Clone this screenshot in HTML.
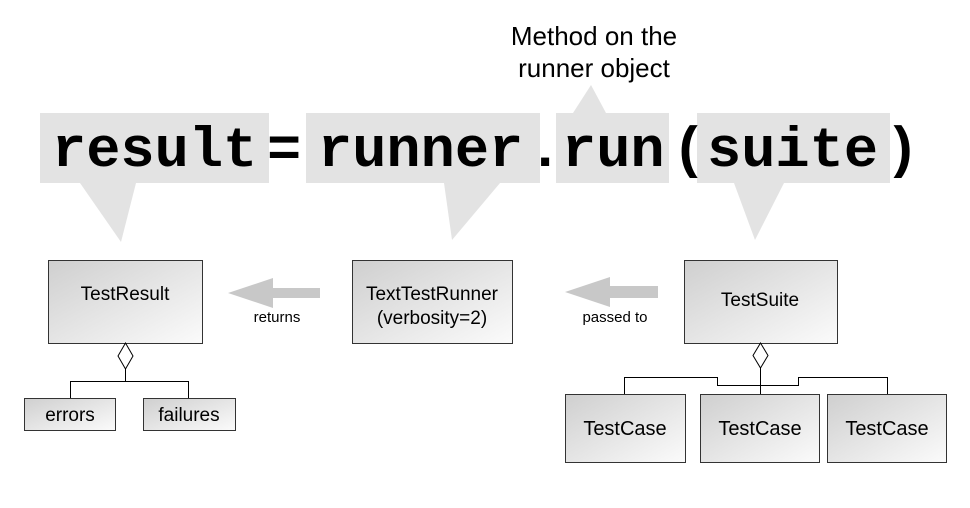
<!DOCTYPE html>
<html><head><meta charset="utf-8"><style>
html,body{margin:0;padding:0;background:#fff;width:970px;height:508px;overflow:hidden}
</style></head><body>
<svg width="970" height="508" viewBox="0 0 970 508" xmlns="http://www.w3.org/2000/svg">
<defs>
<linearGradient id="g" x1="0" y1="0" x2="1" y2="1">
<stop offset="0" stop-color="#cfcfcf"/><stop offset="1" stop-color="#fbfbfb"/>
</linearGradient>
</defs>
<g font-family="Liberation Sans, sans-serif" fill="#000">
<text x="594" y="45" font-size="26" text-anchor="middle">Method on the</text>
<text x="594" y="77" font-size="26" text-anchor="middle">runner object</text>
</g>
<g fill="#e3e3e3">
<rect x="40" y="113" width="229" height="70"/>
<rect x="306" y="113" width="234" height="70"/>
<rect x="556" y="113" width="113" height="70"/>
<rect x="697" y="113" width="193" height="70"/>
<polygon points="80,183 136,183 121,242"/>
<polygon points="444,183 500,183 452,240"/>
<polygon points="573,113 606,113 591,85"/>
<polygon points="734,183 784,183 755,240"/>
</g>
<g font-family="Liberation Mono, monospace" font-weight="bold" font-size="57" fill="#000">
<text x="52" y="166">result</text>
<text x="267" y="166">=</text>
<text x="318" y="166">runner</text>
<text x="528" y="166">.</text>
<text x="562" y="166">run</text>
<text x="672" y="166">(</text>
<text x="707" y="166">suite</text>
<text x="885" y="166">)</text>
</g>
<g stroke="#333" stroke-width="1" fill="url(#g)">
<rect x="48.5" y="260.5" width="154" height="83"/>
<rect x="352.5" y="260.5" width="160" height="83"/>
<rect x="684.5" y="260.5" width="153" height="83"/>
<rect x="24.5" y="398.5" width="91" height="32"/>
<rect x="143.5" y="398.5" width="92" height="32"/>
<rect x="565.5" y="394.5" width="120" height="68"/>
<rect x="700.5" y="394.5" width="119" height="68"/>
<rect x="827.5" y="394.5" width="119" height="68"/>
</g>
<g fill="#c8c8c8">
<polygon points="228,293 273,278 273,288 320,288 320,298 273,298 273,308"/>
<polygon points="565,292 610,277 610,286 658,286 658,298 610,298 610,307"/>
</g>
<g stroke="#000" stroke-width="1" fill="none">
<polygon points="125.5,343 133,356 125.5,369 118,356" fill="#fff"/>
<polyline points="125.5,369 125.5,382"/>
<polyline points="70.5,398 70.5,381.5 188.5,381.5 188.5,398"/>
<polygon points="760.5,343 768,355.5 760.5,368 753,355.5" fill="#fff"/>
<polyline points="760.5,368 760.5,394"/>
<polyline points="624.5,394 624.5,377.5 717.5,377.5 717.5,385.5 798.5,385.5 798.5,377.5 887.5,377.5 887.5,394"/>
</g>
<g font-family="Liberation Sans, sans-serif" fill="#000" text-anchor="middle">
<text x="125" y="300" font-size="19">TestResult</text>
<text x="432" y="300" font-size="19">TextTestRunner</text>
<text x="432" y="324" font-size="19">(verbosity=2)</text>
<text x="760" y="306" font-size="19">TestSuite</text>
<text x="70" y="421" font-size="19">errors</text>
<text x="189" y="421" font-size="19">failures</text>
<text x="625" y="435" font-size="20">TestCase</text>
<text x="760" y="435" font-size="20">TestCase</text>
<text x="887" y="435" font-size="20">TestCase</text>
<text x="277" y="322" font-size="15">returns</text>
<text x="615" y="322" font-size="15">passed to</text>
</g>
</svg>
</body></html>
